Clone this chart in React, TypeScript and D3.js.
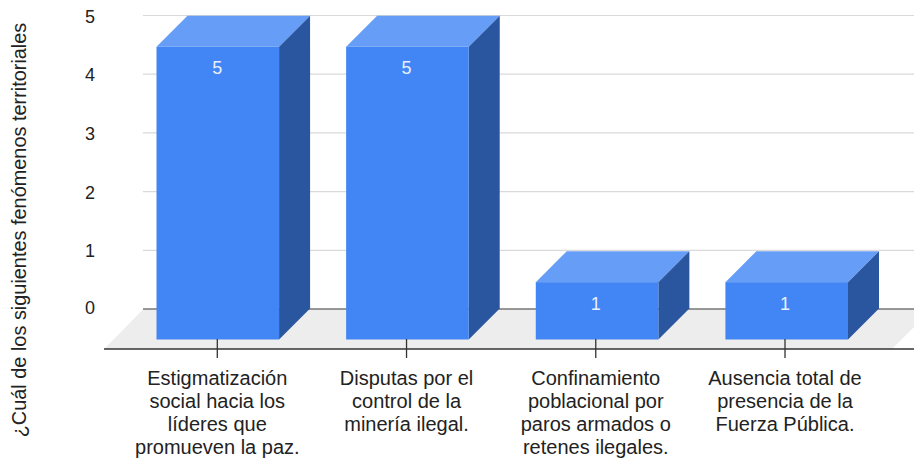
import React from "react";
import * as d3 from "d3";

const categories = [
  ["Estigmatización", "social hacia los", "líderes que", "promueven la paz."],
  ["Disputas por el", "control de la", "minería ilegal."],
  ["Confinamiento", "poblacional por", "paros armados o", "retenes ilegales."],
  ["Ausencia total de", "presencia de la", "Fuerza Pública."],
];
const values = [5, 5, 1, 1];
const yTicks = [0, 1, 2, 3, 4, 5];
const yTitle = "¿Cuál de los siguientes fenómenos territoriales";

const W = 914, H = 458;
const dx = 31, dy = 31;
const font = "'Liberation Sans', Arial, sans-serif";

export default function App() {
  const x = d3.scaleBand<number>().domain(d3.range(4)).range([156.5, 848]).paddingInner(0.3536).paddingOuter(0);
  const tickX = d3.scalePoint<number>().domain(d3.range(4)).range([217.3, 785]);
  const yBack = d3.scaleLinear().domain([0, 5]).range([309, 15.5]);
  const yFront = d3.scaleLinear().domain([0, 5]).range([341, 46.8]);
  const barBottom = 339.5;
  return (
    <svg width={W} height={H} viewBox={`0 0 ${W} ${H}`} style={{ position: "absolute", left: 0, top: 0, fontFamily: font }}>
      <rect width={W} height={H} fill="#fff" />
      <polygon points="143,309.5 914,309.5 914,327 892,349 104,349" fill="#ededed" />
      {yTicks.filter(t => t > 0).map(t => (
        <line key={t} x1={143} x2={914} y1={yBack(t)} y2={yBack(t)} stroke="#d9d9d9" strokeWidth={1.2} />
      ))}
      <line x1={143} x2={914} y1={309} y2={309} stroke="#333" strokeWidth={1.2} />
      <line x1={104} x2={914} y1={349} y2={349} stroke="#333" strokeWidth={1.3} />
      {yTicks.map(t => (
        <text key={t} x={95} y={yBack(t) + (t === 0 ? 5 : 7)} textAnchor="end" fontSize={18} fill="#222">{t}</text>
      ))}
      {values.map((v, i) => {
        const l = x(i)!, r = l + x.bandwidth(), t = yFront(v), c = tickX(i)!;
        return (
          <g key={i}>
            <polygon points={`${l},${t} ${l + dx},${t - dy} ${r + dx},${t - dy} ${r},${t}`} fill="#669df6" />
            <polygon points={`${r},${t} ${r + dx},${t - dy} ${r + dx},${barBottom - dy} ${r},${barBottom}`} fill="#2a56a0" />
            <rect x={l} y={t} width={x.bandwidth()} height={barBottom - t} fill="#4285f4" />
            <text x={c} y={t + 27.5} textAnchor="middle" fontSize={18} fill="#e8f0fe">{v}</text>
            <line x1={c} x2={c} y1={339} y2={358} stroke="#333" strokeWidth={1.3} />
            {categories[i].map((s, j) => (
              <text key={j} x={c} y={385 + j * 23} textAnchor="middle" fontSize={20} fill="#222">{s}</text>
            ))}
          </g>
        );
      })}
      <text transform={`translate(26,230) rotate(-90)`} textAnchor="middle" fontSize={19.9} fill="#222">{yTitle}</text>
    </svg>
  );
}
